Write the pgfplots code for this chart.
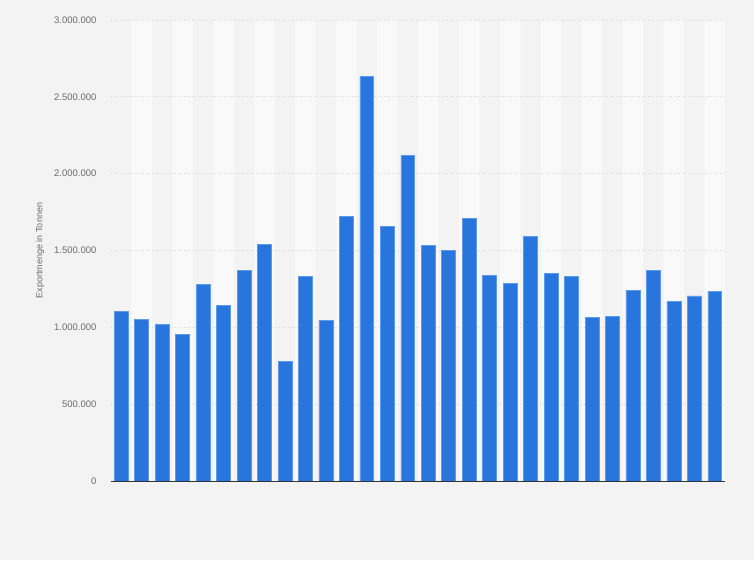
\documentclass[border=0pt]{standalone}
\usepackage{fontspec}
\setmainfont{Liberation Sans}
\usepackage{pgfplots}
\pgfplotsset{compat=1.18}

\definecolor{pagebg}{HTML}{F3F3F3}
\definecolor{band}{HTML}{F9F9F9}
\definecolor{barblue}{HTML}{2876DD}
\definecolor{baredge}{HTML}{5D9AE7}
\definecolor{gridc}{HTML}{D9D9D9}
\definecolor{labelc}{HTML}{6B6B6B}
\definecolor{basec}{HTML}{333333}

\begin{document}
\begin{tikzpicture}
\useasboundingbox (0,0) rectangle (754pt,560pt);
\fill[pagebg] (0,0) rectangle (754pt,560pt);
\begin{axis}[
    at={(111pt,79pt)}, anchor=south west,
    scale only axis, width=614pt, height=461pt,
    xmin=0.5, xmax=30.5, ymin=0, ymax=3000000,
    xtick=\empty,
    ytick={0,500000,1000000,1500000,2000000,2500000,3000000},
    scaled y ticks=false,
    major tick length=0pt,
    yticklabel style={font=\fontsize{9.5}{11}\selectfont, text=labelc, anchor=east, xshift=-11pt},
    /pgf/number format/.cd, fixed, 1000 sep={.}, assume math mode=true,
    /pgfplots/.cd,
    axis on top,
    axis x line*=bottom, axis y line*=left,
    y axis line style={draw=none},
    x axis line style={draw=basec, line width=0.9pt},
    ylabel={Exportmenge in Tonnen},
    every axis y label/.style={at={(rel axis cs:-0.1156,0.5)}, rotate=90, anchor=center,
        font=\fontsize{9}{11}\selectfont, text=labelc},
    clip=false,
]
% alternating column bands
\addplot[ybar, bar width=1, bar shift=0, fill=band, draw=none] coordinates {
(2,3000000) (4,3000000) (6,3000000) (8,3000000) (10,3000000)
(12,3000000) (14,3000000) (16,3000000) (18,3000000) (20,3000000)
(22,3000000) (24,3000000) (26,3000000) (28,3000000) (30,3000000)};
% dotted grid lines
\pgfplotsinvokeforeach{500000,1000000,1500000,2000000,2500000,3000000}{
  \draw[gridc, line width=0.9pt, dotted] (axis cs:0.5,#1) -- (axis cs:30.5,#1);
}
\addplot[ybar, bar width=0.68, bar shift=0, fill=barblue, draw=baredge, line width=0.6pt] coordinates {
(1,1103000) (2,1053000) (3,1021000) (4,956000) (5,1281000)
(6,1145000) (7,1372000) (8,1542000) (9,780000) (10,1329000)
(11,1047000) (12,1724000) (13,2632000) (14,1659000) (15,2117000)
(16,1535000) (17,1503000) (18,1711000) (19,1340000) (20,1288000)
(21,1594000) (22,1349000) (23,1334000) (24,1066000) (25,1073000)
(26,1242000) (27,1372000) (28,1171000) (29,1205000) (30,1236000)};
\end{axis}
\end{tikzpicture}
\end{document}
